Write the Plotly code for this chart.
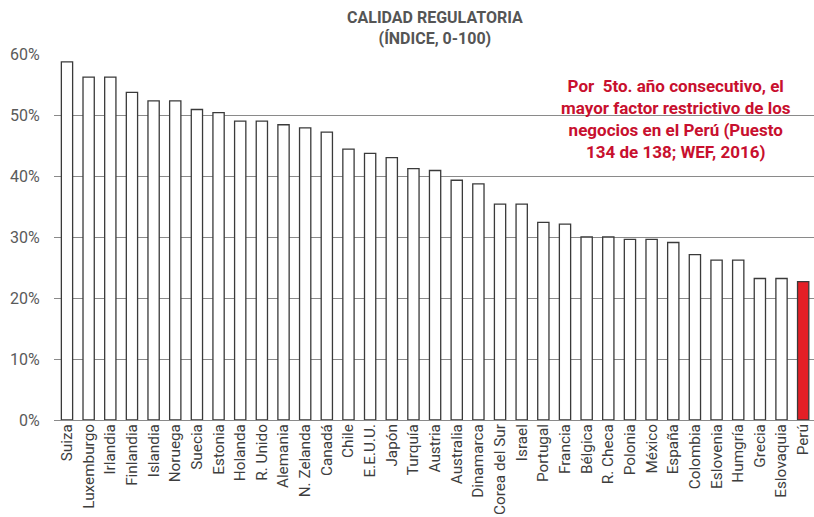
import plotly.graph_objects as go

# Regulatory quality index by country (share shown as %)
paises = ["Suiza", "Luxemburgo", "Irlandia", "Finlandia", "Islandia", "Noruega", "Suecia",
          "Estonia", "Holanda", "R. Unido", "Alemania", "N. Zelanda", "Canadá", "Chile",
          "E.E.U.U.", "Japón", "Turquía", "Austria", "Australia", "Dinamarca", "Corea del Sur",
          "Israel", "Portugal", "Francia", "Bélgica", "R. Checa", "Polonia", "México",
          "España", "Colombia", "Eslovenia", "Humgría", "Grecia", "Eslovaquia", "Perú"]
valores = [58.7, 56.2, 56.2, 53.7, 52.3, 52.3, 50.9,
           50.4, 49.0, 49.0, 48.4, 47.9, 47.2, 44.4,
           43.7, 43.0, 41.2, 40.9, 39.3, 38.7, 35.4,
           35.4, 32.4, 32.1, 30.0, 30.0, 29.6, 29.6,
           29.1, 27.1, 26.2, 26.2, 23.2, 23.2, 22.7]
ticks_y = [0, 10, 20, 30, 40, 50, 60]
etiquetas_y = ["0%", "10%", "20%", "30%", "40%", "50%", "60%"]

resaltado = "Perú"
colores = ["#e41f26" if p == resaltado else "white" for p in paises]

FONT = "Roboto"
GRIS = "#8a8a8a"

fig = go.Figure(go.Bar(
    x=paises, y=valores, width=0.52,
    marker=dict(color=colores, line=dict(color="#3a3a3a", width=1.3)),
    hoverinfo="x+y",
))

fig.update_layout(
    width=814, height=517,
    margin=dict(l=54, r=0, t=54, b=97),
    plot_bgcolor="white", paper_bgcolor="white",
    showlegend=False,
    bargap=0.48,
    font=dict(family=FONT, color="#555555"),
)

fig.update_xaxes(
    type="category", range=[-0.6, 34.5], automargin=False,
    tickangle=-90, tickfont=dict(size=15.3, color="#3d3d3d", family=FONT),
    showgrid=False, showline=False, ticks="", ticklen=0,
)
fig.update_yaxes(
    range=[0, 60], tickvals=ticks_y, ticktext=etiquetas_y, automargin=False,
    tickfont=dict(size=16, color="#5a5a5a", family=FONT),
    showgrid=True, gridcolor=GRIS, gridwidth=1.4,
    zeroline=True, zerolinecolor=GRIS, zerolinewidth=1.4,
    showline=False, ticks="outside", ticklen=10, tickcolor="rgba(0,0,0,0)",
)

fig.add_annotation(
    xref="paper", yref="paper", x=(435 - 54) / 760, y=1,
    yshift=4, xanchor="center", yanchor="bottom",
    text="<b>CALIDAD REGULATORIA<br>(ÍNDICE, 0-100)</b>",
    showarrow=False, align="center",
    font=dict(family=FONT, size=16, color="#555555"),
)

fig.add_annotation(
    xref="paper", yref="paper", x=(676 - 54) / 760, y=1,
    yshift=-20, xanchor="center", yanchor="top",
    text="<b>Por\u00a0 5to. año consecutivo, el<br>mayor factor restrictivo de los<br>"
         "negocios en el Perú (Puesto<br>134 de 138; WEF, 2016)</b>",
    showarrow=False, align="center",
    font=dict(family=FONT, size=17, color="#c8102e"),
)

fig.write_html("out.html")
